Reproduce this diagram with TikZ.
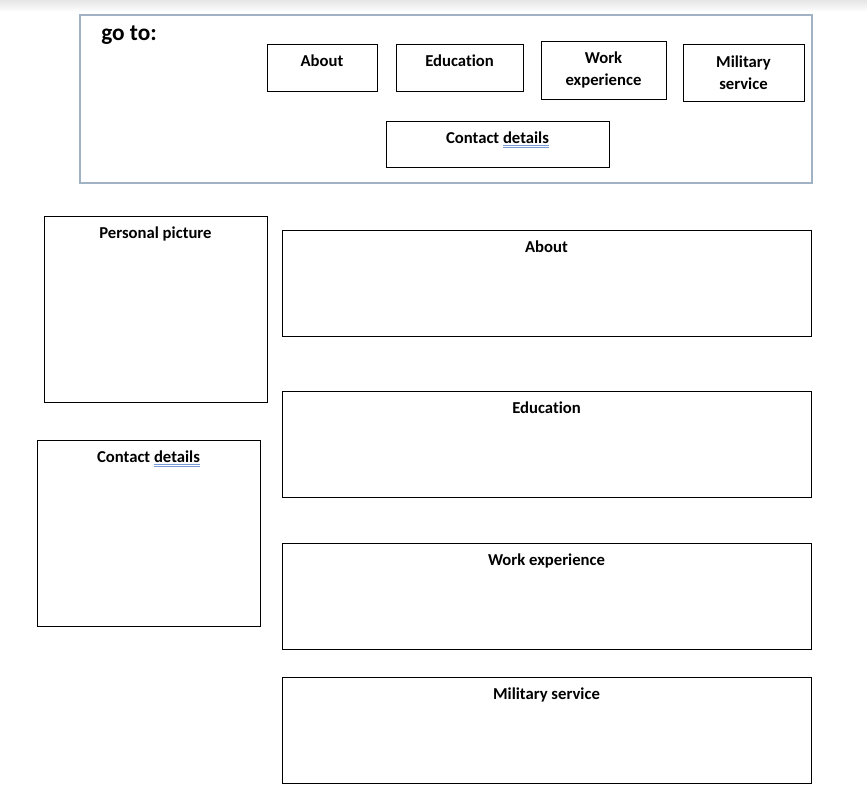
\documentclass[tikz,border=0pt]{standalone}
\usepackage{fontspec}
\setmainfont{Carlito}[Ligatures={NoCommon}]
\definecolor{framecol}{RGB}{160,178,196}
\definecolor{ulblue}{RGB}{120,155,215}
\newcommand\spellul[1]{\leavevmode\setbox0=\hbox{#1}%
  \rlap{\textcolor{ulblue}{\rule[-1.6pt]{\wd0}{0.6pt}}}%
  \rlap{\textcolor{ulblue}{\rule[-3.0pt]{\wd0}{0.6pt}}}\box0}
\begin{document}
\begin{tikzpicture}[x=0.75pt,y=-0.75pt,
  pxbox/.style n args={2}{minimum width=#1*0.75pt, minimum height=#2*0.75pt},
  box/.style={draw=black, line width=0.75pt, inner sep=0pt, fill=white},
  ttl/.style={font=\bfseries\fontsize{12.5}{16.5}\selectfont, inner sep=0pt, align=center},
  gotofont/.style={font=\bfseries\fontsize{17.5}{20}\selectfont, inner sep=0pt}]
\useasboundingbox (0,0) rectangle (867,794);
\fill[white] (0,0) rectangle (867,794);
\shade[top color=black!10, bottom color=white] (0,0) rectangle (867,12);

% go-to frame
\node[draw=framecol, line width=1.5pt, inner sep=0pt, pxbox={732}{168}] (frame) at (446,99) {};
\node[gotofont, anchor=base west] (goto) at (101,40) {go to:};

% navigation boxes
\node[box, pxbox={110}{47}] (navabout) at (322,67.5) {};
\node[ttl, anchor=base] (navaboutT) at ([yshift=-17.6pt]navabout.north) {About};
\node[box, pxbox={127}{47}] (navedu) at (459.5,67.5) {};
\node[ttl, anchor=base] (naveduT) at ([yshift=-17.6pt]navedu.north) {Education};
\node[box, pxbox={125}{58}] (navwork) at (603.5,70) {};
\node[ttl] (navworkT) at (603.5,70) {Work\\experience};
\node[box, pxbox={121}{57}] (navmil) at (743.5,72.5) {};
\node[ttl] (navmilT) at (743.5,73) {Military\\service};
\node[box, pxbox={223}{46}] (navcont) at (497.5,144) {};
\node[ttl, anchor=base] (navcontT) at ([yshift=-17.6pt]navcont.north) {Contact \spellul{details}};

% left column
\node[box, pxbox={223}{186}] (pic) at (155.5,309) {};
\node[ttl, anchor=base] (picT) at ([yshift=-17.6pt]pic.north) {Personal picture};
\node[box, pxbox={223}{186}] (cont) at (148.5,533) {};
\node[ttl, anchor=base] (contT) at ([yshift=-17.6pt]cont.north) {Contact \spellul{details}};

% right column
\node[box, pxbox={529}{106}] (about) at (546.5,283) {};
\node[ttl, anchor=base] (aboutT) at ([yshift=-17.6pt]about.north) {About};
\node[box, pxbox={529}{106}] (edu) at (546.5,444) {};
\node[ttl, anchor=base] (eduT) at ([yshift=-17.6pt]edu.north) {Education};
\node[box, pxbox={529}{106}] (work) at (546.5,596) {};
\node[ttl, anchor=base] (workT) at ([yshift=-17.6pt]work.north) {Work experience};
\node[box, pxbox={529}{106}] (mil) at (546.5,730) {};
\node[ttl, anchor=base] (milT) at ([yshift=-17.6pt]mil.north) {Military service};
\end{tikzpicture}
\end{document}
